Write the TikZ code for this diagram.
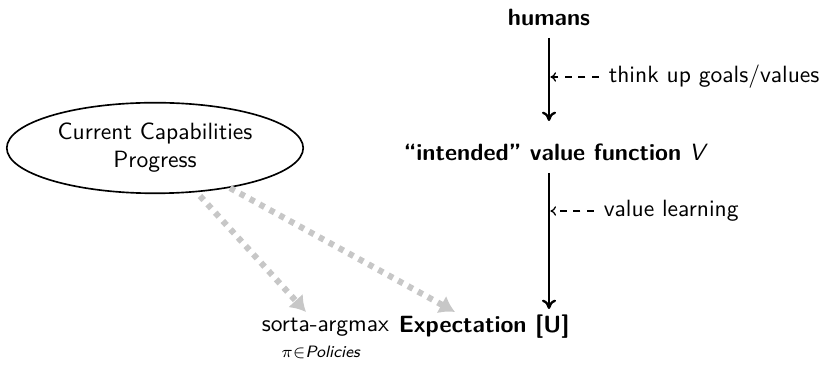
\documentclass[tikz,border=0pt]{standalone}
\usetikzlibrary{arrows.meta,shapes.geometric}
\renewcommand{\familydefault}{\sfdefault}
\begin{document}
\begin{tikzpicture}[x=0.425pt,y=-0.425pt,
  every node/.style={font=\sffamily, inner sep=1pt},
  flow/.style={-{To[length=4pt,width=6pt]}, line width=1pt},
  hint/.style={-{To[length=2.4pt,width=4pt]}, dash pattern=on 3pt off 2.8pt, line width=0.55pt},
  feed/.style={-{Latex[length=6.5pt,width=8.5pt]}, line width=2.6pt, draw=black!22, dash pattern=on 2.3pt off 2.5pt},
  capnode/.style={ellipse, draw, line width=0.7pt, minimum width=126pt, minimum height=38.5pt, inner sep=0pt, align=center}]
  \useasboundingbox (0,0) rectangle (820,367);

  % column of quantities
  \node (humans) at (549,17) {\textbf{humans}};
  \node (vf) at (556,152) {\textbf{``intended'' value function} \textit{V}};
  \node[anchor=west] (am) at (259,327) {sorta-argmax};
  \node[anchor=west] (ex) at (396,327) {\textbf{Expectation [U]}};
  \node[font=\sffamily\scriptsize] (sub) at (321,352) {$\pi{\in}$\textit{Policies}};

  % ellipse on the left
  \node[capnode] (cc) at (155,148) {Current Capabilities\\Progress};

  % main downward arrows
  \coordinate (a1s) at (549,38);
  \coordinate (a1e) at (549,121);
  \coordinate (a2s) at (549,173);
  \coordinate (a2e) at (549,309);
  \draw[flow] (a1s) -- (a1e);
  \draw[flow] (a2s) -- (a2e);

  % side annotations
  \node[anchor=west] (t1) at (606,77) {think up goals/values};
  \node[anchor=west] (t2) at (601,211) {value learning};
  \draw[hint] ([xshift=-3pt]t1.west) -- ([xshift=0.6pt]t1.west -| a1s);
  \draw[hint] ([xshift=-3pt]t2.west) -- ([xshift=0.6pt]t2.west -| a2s);

  % capability feeds
  \coordinate (f1a) at (200,196);
  \coordinate (f1b) at (306,312);
  \coordinate (f2a) at (230,188);
  \coordinate (f2b) at (455,312);
  \draw[feed] (f1a) -- (f1b);
  \draw[feed] (f2a) -- (f2b);
\end{tikzpicture}
\end{document}
